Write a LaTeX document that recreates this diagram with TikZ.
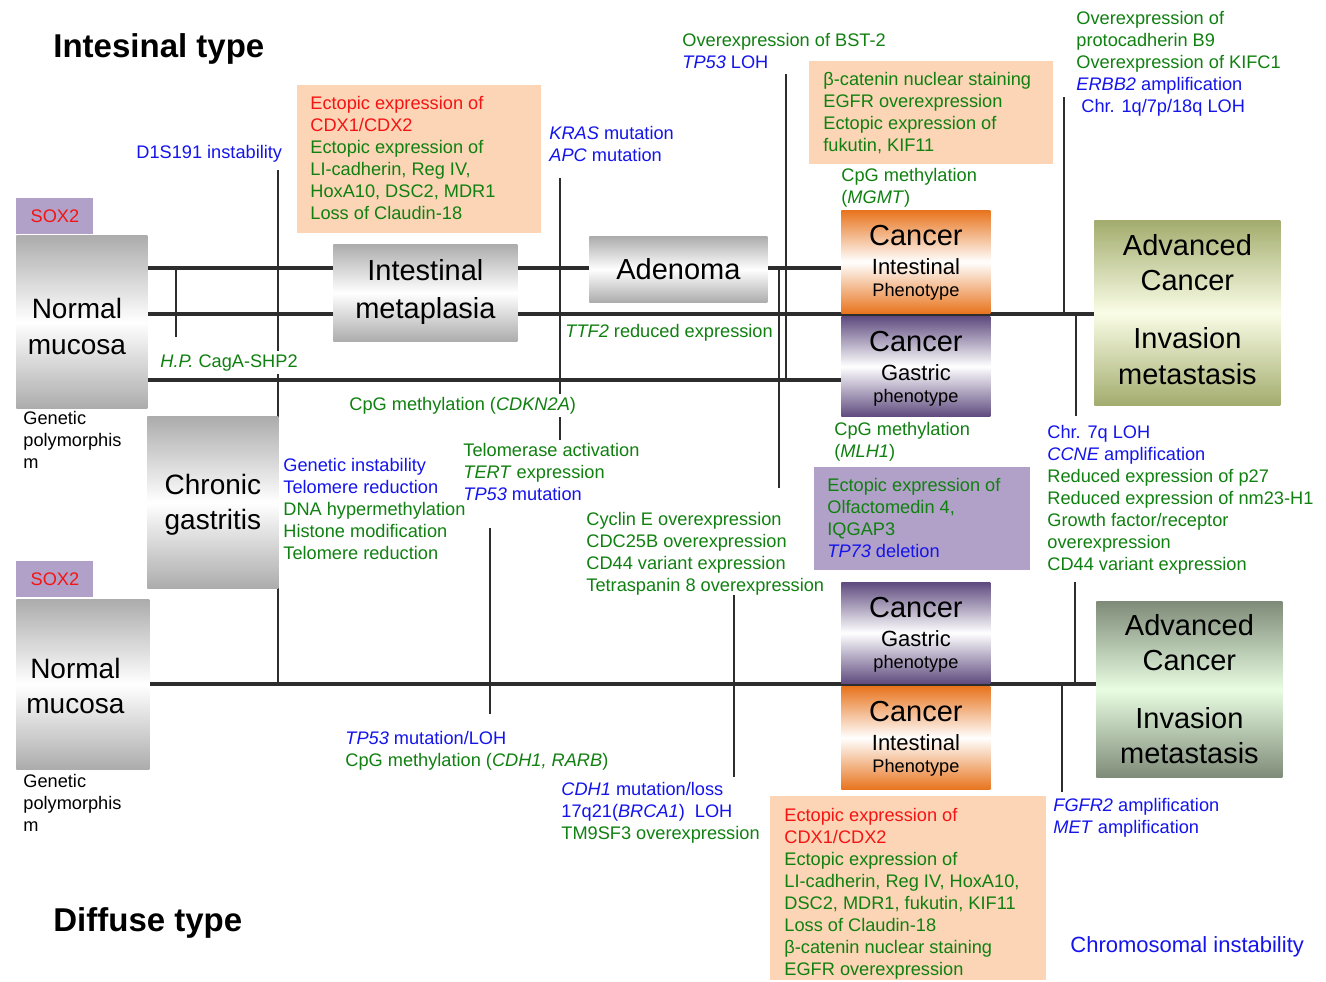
\documentclass[tikz,border=0pt]{standalone}
\usepackage{fontspec}
\setmainfont{Liberation Sans}
\usetikzlibrary{backgrounds}
\definecolor{txtgreen}{RGB}{16, 128, 16}
\definecolor{txtblue}{RGB}{20, 20, 235}
\definecolor{txtred}{RGB}{245, 20, 20}
\definecolor{peach}{RGB}{251, 213, 181}
\definecolor{lilac}{RGB}{177, 160, 199}
\definecolor{railgray}{RGB}{45, 45, 45}
\definecolor{boxgray}{RGB}{172, 172, 172}
\definecolor{cancerorange}{RGB}{232, 116, 30}
\definecolor{cancerpurple}{RGB}{95, 75, 127}
\definecolor{advolive}{RGB}{163, 172, 110}
\definecolor{advolivemid}{RGB}{250, 253, 230}
\definecolor{advsage}{RGB}{126, 139, 120}
\definecolor{advsagemid}{RGB}{232, 253, 226}
\newcommand{\blu}[1]{\textcolor{txtblue}{#1}}
\newcommand{\rdt}[1]{\textcolor{txtred}{#1}}
\tikzset{
    rail/.style={draw=railgray, line width=2pt},
    tick/.style={draw=railgray, line width=1.2pt},
    txt/.style={anchor=north west, inner sep=0pt, align=left, text=txtgreen, font=\fontsize{9.1}{11}\selectfont},
    blacktxt/.style={txt, text=black},
    lbl/.style={anchor=base, inner sep=0pt},
    bigtxt/.style={font=\fontsize{14.5}{17}\selectfont},
    nmtxt/.style={font=\fontsize{14}{17}\selectfont},
    midtxt/.style={font=\fontsize{11}{13}\selectfont},
    smalltxt/.style={font=\fontsize{9.1}{11}\selectfont},
    head/.style={anchor=base west, inner sep=0pt, font=\fontsize{16.5}{20}\selectfont\bfseries},
    panel/.style={anchor=north west, inner sep=0pt},
    greybox/.style={panel, top color=boxgray, bottom color=boxgray, middle color=white},
    intbox/.style={panel, top color=cancerorange, bottom color=cancerorange, middle color=white},
    gasbox/.style={panel, top color=cancerpurple, bottom color=cancerpurple, middle color=white}
}
\begin{document}
\begin{tikzpicture}[x=0.5pt, y=-0.5pt]
            \useasboundingbox (0,0) rectangle (1326,981);
            % Headings
            \node[head] (hint) at (53,57)  {Intesinal type};
            \node[head] (hdif) at (53,931) {Diffuse type};
            % Intestinal type: stages
            \node[panel, fill=lilac, minimum width=38.5pt, minimum height=18pt, text=txtred, smalltxt] (sox1) at (16,198) {SOX2};
            \node[greybox, minimum width=65.5pt, minimum height=86.5pt] (nm1) at (16,235) {};
            \node[lbl, nmtxt] (nm1a) at ([xshift=-2.5pt, yshift=-41.6pt]nm1.north) {Normal};
            \node[lbl, nmtxt] (nm1b) at ([xshift=-2.5pt, yshift=-59.5pt]nm1.north) {mucosa};
            \node[blacktxt] (gp1) at (23,411) {Genetic\\polymorphis\\m};
            \node[greybox, minimum width=92pt, minimum height=48.5pt] (im) at (333,244) {};
            \node[lbl, bigtxt] (ima) at ([yshift=-18.2pt]im.north) {Intestinal};
            \node[lbl, bigtxt] (imb) at ([yshift=-37pt]im.north)   {metaplasia};
            \node[greybox, minimum width=89pt, minimum height=33pt] (ad) at (589,236) {};
            \node[lbl, bigtxt] (ada) at ([yshift=-21.75pt]ad.north) {Adenoma};
            \node[greybox, minimum width=65.5pt, minimum height=86pt] (chg) at (147,416) {};
            \node[lbl, nmtxt] (chga) at ([yshift=-39.25pt]chg.north) {Chronic};
            \node[lbl, nmtxt] (chgb) at ([yshift=-56.5pt]chg.north)  {gastritis};
            \node[intbox, minimum width=74.5pt, minimum height=51.5pt] (ci1) at (841,210) {};
            \node[lbl, bigtxt]   (ci1a) at ([yshift=-17.5pt]ci1.north)  {Cancer};
            \node[lbl, midtxt]   (ci1b) at ([yshift=-32pt]ci1.north)    {Intestinal};
            \node[lbl, smalltxt] (ci1c) at ([yshift=-43.25pt]ci1.north) {Phenotype};
            \node[gasbox, minimum width=74.5pt, minimum height=50pt] (cg1) at (841,316) {};
            \node[lbl, bigtxt]   (cg1a) at ([yshift=-17.5pt]cg1.north)  {Cancer};
            \node[lbl, midtxt]   (cg1b) at ([yshift=-32pt]cg1.north)    {Gastric};
            \node[lbl, smalltxt] (cg1c) at ([yshift=-43pt]cg1.north)    {phenotype};
            \node[panel, top color=advolive, bottom color=advolive, middle color=advolivemid, minimum width=93pt, minimum height=92.5pt] (ac1) at (1094,220) {};
            \node[lbl, bigtxt] (ac1a) at ([yshift=-17.5pt]ac1.north)  {Advanced};
            \node[lbl, bigtxt] (ac1b) at ([yshift=-35.35pt]ac1.north) {Cancer};
            \node[lbl, bigtxt] (ac1c) at ([yshift=-64pt]ac1.north)    {Invasion};
            \node[lbl, bigtxt] (ac1d) at ([yshift=-82pt]ac1.north)    {metastasis};
            % Intestinal type: alterations
            \node[txt, text=txtblue] (d1s) at (136,145) {D1S191 instability};
            \node[panel, fill=peach, minimum width=122pt, minimum height=74pt] (or1) at (297,85) {};
            \node[txt] (or1t) at ([xshift=6.5pt, yshift=-5.5pt]or1.north west) {\rdt{Ectopic expression of}\\\rdt{CDX1/CDX2}\\Ectopic expression of\\LI-cadherin, Reg IV,\\HoxA10, DSC2, MDR1\\Loss of Claudin-18};
            \node[txt, text=txtblue] (kras) at (549,126) {\textit{KRAS} mutation\\\textit{APC} mutation};
            \node[txt] (ttf) at (565,324) {\textit{TTF2} reduced expression};
            \node[txt] (bst) at (682,33) {Overexpression of BST-2\\\blu{\textit{TP53} LOH}};
            \node[panel, fill=peach, minimum width=122pt, minimum height=51.5pt] (or2) at (809,61) {};
            \node[txt] (or2t) at ([xshift=7pt, yshift=-5.5pt]or2.north west) {β-catenin nuclear staining\\EGFR overexpression\\Ectopic expression of\\fukutin, KIF11};
            \node[txt] (mgmt) at (841,168) {CpG methylation\\(\textit{MGMT})};
            \node[txt] (pcdh) at (1076,11) {Overexpression of\\protocadherin B9\\Overexpression of KIFC1\\\blu{\textit{ERBB2} amplification}\\\blu{\hspace{2.5pt}Chr. 1q/7p/18q LOH}};
            \node[txt, fill=white, inner ysep=1.5pt] (hp) at (160,351) {\textit{H.P.} CagA-SHP2};
            \node[txt, fill=white, inner ysep=1.5pt] (cdkn) at (349,394) {CpG methylation (\textit{CDKN2A})};
            \node[txt] (gi) at (283,458) {\blu{Genetic instability}\\\blu{Telomere reduction}\\DNA hypermethylation\\Histone modification\\Telomere reduction};
            \node[txt] (tel) at (463,443) {Telomerase activation\\\textit{TERT} expression\\\blu{\textit{TP53} mutation}};
            \node[txt] (cyc) at (586,512) {Cyclin E overexpression\\CDC25B overexpression\\CD44 variant expression\\Tetraspanin 8 overexpression};
            \node[txt] (mlh) at (834,422) {CpG methylation\\(\textit{MLH1})};
            \node[panel, fill=lilac, minimum width=108pt, minimum height=51.5pt] (pu) at (814,467) {};
            \node[txt] (put) at ([xshift=6.5pt, yshift=-5.5pt]pu.north west) {Ectopic expression of\\Olfactomedin 4,\\IQGAP3\\\blu{\textit{TP73} deletion}};
            \node[txt] (chr7) at (1047,425) {\blu{Chr. 7q LOH}\\\blu{\textit{CCNE} amplification}\\Reduced expression of p27\\Reduced expression of nm23-H1\\Growth factor/receptor\\overexpression\\CD44 variant expression};
            % Diffuse type: stages
            \node[panel, fill=lilac, minimum width=38.5pt, minimum height=18pt, text=txtred, smalltxt] (sox2) at (16,561) {SOX2};
            \node[greybox, minimum width=66.5pt, minimum height=85pt] (nm2) at (16,599) {};
            \node[lbl, nmtxt] (nm2a) at ([xshift=-3.75pt, yshift=-39.65pt]nm2.north) {Normal};
            \node[lbl, nmtxt] (nm2b) at ([xshift=-3.75pt, yshift=-57.15pt]nm2.north) {mucosa};
            \node[blacktxt] (gp2) at (23,774) {Genetic\\polymorphis\\m};
            \node[gasbox, minimum width=74.5pt, minimum height=50.5pt] (cg2) at (841,582) {};
            \node[lbl, bigtxt]   (cg2a) at ([yshift=-17.5pt]cg2.north) {Cancer};
            \node[lbl, midtxt]   (cg2b) at ([yshift=-32pt]cg2.north)   {Gastric};
            \node[lbl, smalltxt] (cg2c) at ([yshift=-43pt]cg2.north)   {phenotype};
            \node[intbox, minimum width=74.5pt, minimum height=51.5pt] (ci2) at (841,686) {};
            \node[lbl, bigtxt]   (ci2a) at ([yshift=-17.5pt]ci2.north)  {Cancer};
            \node[lbl, midtxt]   (ci2b) at ([yshift=-32pt]ci2.north)    {Intestinal};
            \node[lbl, smalltxt] (ci2c) at ([yshift=-43.25pt]ci2.north) {Phenotype};
            \node[panel, top color=advsage, bottom color=advsage, middle color=advsagemid, minimum width=93pt, minimum height=88pt] (ac2) at (1096,601) {};
            \node[lbl, bigtxt] (ac2a) at ([yshift=-17pt]ac2.north)   {Advanced};
            \node[lbl, bigtxt] (ac2b) at ([yshift=-34.85pt]ac2.north) {Cancer};
            \node[lbl, bigtxt] (ac2c) at ([yshift=-63.5pt]ac2.north) {Invasion};
            \node[lbl, bigtxt] (ac2d) at ([yshift=-81pt]ac2.north)   {metastasis};
            % Diffuse type: alterations
            \node[txt] (tp53b) at (345,731) {\blu{\textit{TP53} mutation/LOH}\\CpG methylation (\textit{CDH1, RARB})};
            \node[txt] (cdh1) at (561,782) {\blu{\textit{CDH1} mutation/loss}\\\blu{17q21(\textit{BRCA1})\ \ LOH}\\TM9SF3 overexpression};
            \node[panel, fill=peach, minimum width=138pt, minimum height=92pt] (or3) at (770,796) {};
            \node[txt] (or3t) at ([xshift=7pt, yshift=-6pt]or3.north west) {\rdt{Ectopic expression of}\\\rdt{CDX1/CDX2}\\Ectopic expression of\\LI-cadherin, Reg IV, HoxA10,\\DSC2, MDR1, fukutin, KIF11\\Loss of Claudin-18\\β-catenin nuclear staining\\EGFR overexpression};
            \node[txt, text=txtblue] (fgfr) at (1053,798) {\textit{FGFR2} amplification\\\textit{MET} amplification};
            \node[txt, text=txtblue, font=\fontsize{11}{13}\selectfont] (cin) at (1070,936) {Chromosomal instability};
            % Rails and ticks, behind everything
            \begin{pgfonlayer}{background}
                \coordinate (railA) at (0,268);
                \coordinate (railB) at (0,314);
                \coordinate (railC) at (0,380);
                \coordinate (railD) at (0,684);
                \draw[rail] (nm1.east |- railA) -- (ci1.west |- railA);
                \draw[rail] (nm1.east |- railB) -- (ac1.west |- railB);
                \draw[rail] (nm1.east |- railC) -- (cg1.west |- railC);
                \draw[rail] (nm2.east |- railD) -- (ac2.west |- railD);
                \draw[tick] (176,0 |- railA) -- (176,337);
                \draw[tick] (278,170) -- (278,0 |- railD);
                \draw[tick] (560,178) -- (560,440);
                \draw[tick] (786,74)  -- (786,0 |- railC);
                \draw[tick] (779,0 |- railA) -- (779,488);
                \draw[tick] (1064,97) -- (1064,0 |- railB);
                \draw[tick] (1076,0 |- railB) -- (1076,416);
                \draw[tick] (490,528) -- (490,714);
                \draw[tick] (734,595) -- (734,777);
                \draw[tick] (1075,582) -- (1075,0 |- railD);
                \draw[tick] (1062,0 |- railD) -- (1062,792);
            \end{pgfonlayer}
        \end{tikzpicture}
\end{document}
